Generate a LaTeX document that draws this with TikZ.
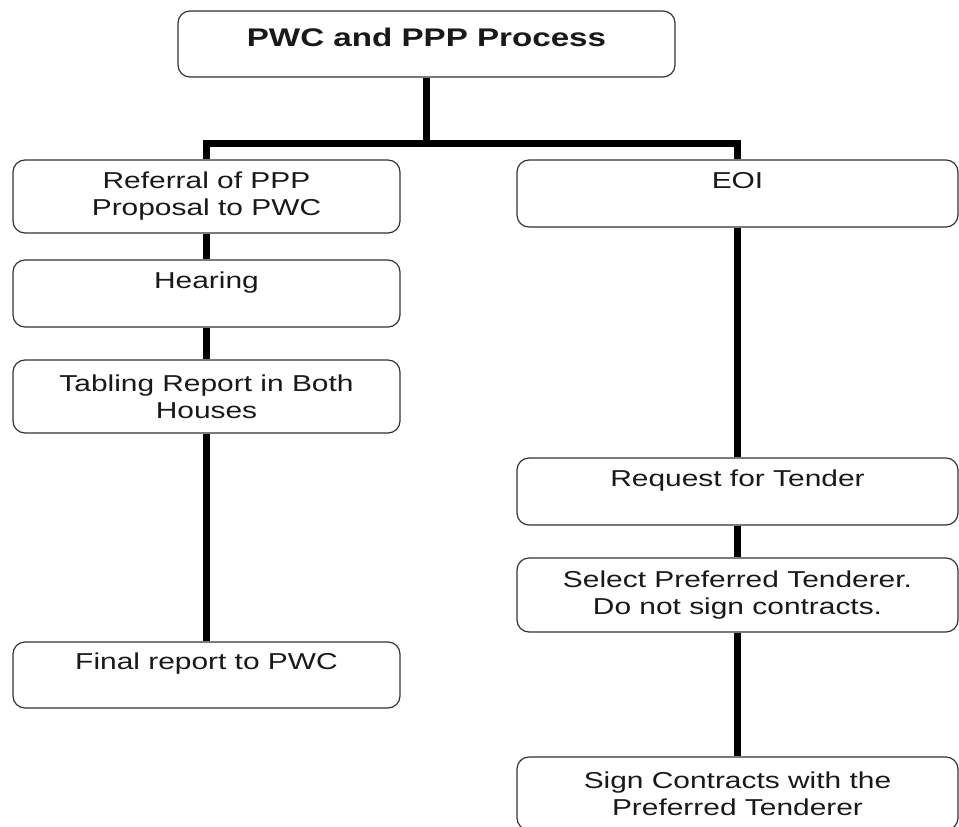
\documentclass[tikz,border=0pt]{standalone}
\usepackage{fontspec}
\setmainfont{Liberation Sans}[FakeStretch=1.3]
\begin{document}
\begin{tikzpicture}[x=1pt,y=-1pt,
  box/.style={draw=black!80, line width=1.2pt, rounded corners=12pt, fill=white,
    align=center, inner sep=0pt, font=\fontsize{23}{27}\selectfont, text=black!90},
  lbox/.style={box, minimum width=387pt},
  rbox/.style={box, minimum width=441pt},
  conn/.style={line width=7pt, black, line join=miter}]
\useasboundingbox (0,0) rectangle (959,827);
\clip (0,0) rectangle (959,827);
% nodes
\node[box, minimum width=497pt, minimum height=66pt, text depth=14pt, font=\fontsize{25.5}{29}\selectfont\bfseries] (top) at (426.5,44) {PWC and PPP Process};
\node[lbox, minimum height=73pt] (ref) at (206.5,196.5) {Referral of PPP\\Proposal to PWC};
\node[lbox, minimum height=67pt] (hear) at (206.5,293.5) {Hearing\\~};
\node[lbox, minimum height=73pt] (tab) at (206.5,396.5) {Tabling Report in Both\\Houses};
\node[lbox, minimum height=66pt] (fin) at (206.5,675) {Final report to PWC\\~};
\node[rbox, minimum height=67pt] (eoi) at (737.5,193.5) {EOI\\~};
\node[rbox, minimum height=67pt] (rft) at (737.5,491.5) {Request for Tender\\~};
\node[rbox, minimum height=74pt] (sel) at (737.5,595) {Select Preferred Tenderer.\\Do not sign contracts.};
\node[rbox, minimum height=73pt] (sign) at (737.5,793.5) {Sign Contracts with the\\Preferred Tenderer};
% connectors
\coordinate (j) at (426.5,143);
\coordinate (jl) at (ref.north |- j);
\coordinate (jr) at (eoi.north |- j);
\draw[conn] (top.south) -- (j);
\draw[conn] (ref.north) -- (jl) -- (jr) -- (eoi.north);
\draw[conn] (ref.south) -- (hear.north);
\draw[conn] (hear.south) -- (tab.north);
\draw[conn] (tab.south) -- (fin.north);
\draw[conn] (eoi.south) -- (rft.north);
\draw[conn] (rft.south) -- (sel.north);
\draw[conn] (sel.south) -- (sign.north);
\end{tikzpicture}
\end{document}
